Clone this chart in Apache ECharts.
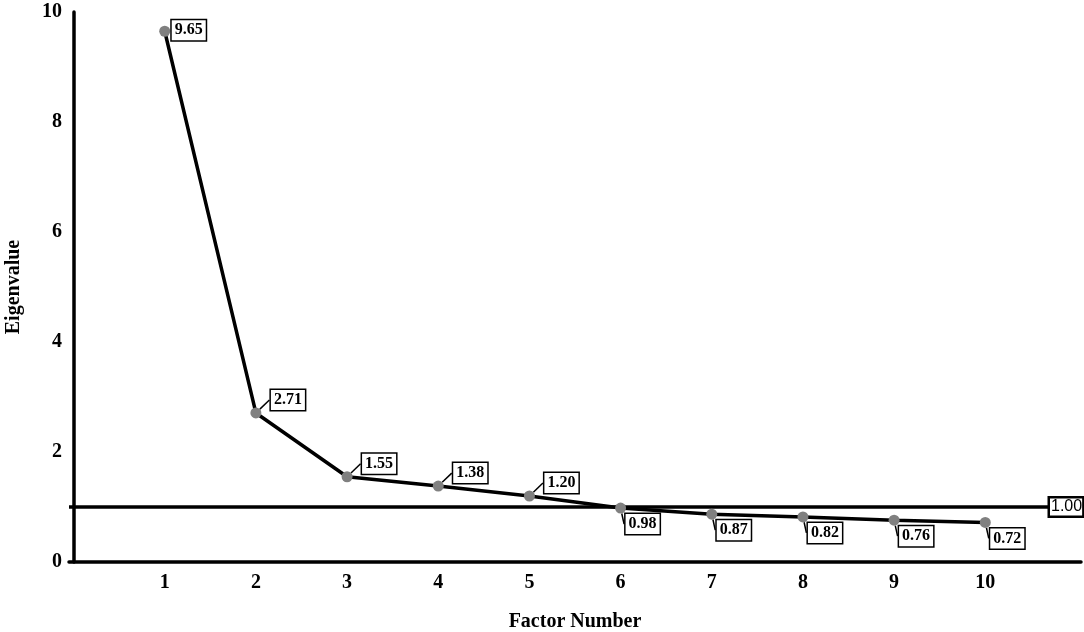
<!DOCTYPE html>
<html>
<head>
<meta charset="utf-8">
<script src="https://cdn.jsdelivr.net/npm/echarts@6/dist/echarts.min.js"></script>
<style>html,body{margin:0;padding:0;background:#fff}#c{width:1084px;height:632px}</style>
</head>
<body>
<div id="c"></div>
<script>
const factors = [1, 2, 3, 4, 5, 6, 7, 8, 9, 10];
const eigenvalues = [9.65, 2.71, 1.55, 1.38, 1.20, 0.98, 0.87, 0.82, 0.76, 0.72];
const yTicks = [0, 2, 4, 6, 8, 10];
const threshold = 1.00;

const serif = 'Liberation Serif';
const chart = echarts.init(document.getElementById('c'));
chart.setOption({
  backgroundColor: '#fff',
  animation: false,
  grid: { left: 69, right: 3, top: 12, bottom: 70, containLabel: false, outerBoundsMode: 'none' },
  xAxis: {
    type: 'value', min: -0.05, max: 11.05,
    name: 'Factor Number', nameLocation: 'middle', nameGap: 50,
    nameTextStyle: { fontFamily: serif, fontWeight: 'bold', fontSize: 20, color: '#000' },
    axisLine: { onZero: false, lineStyle: { color: '#000', width: 3.5 } },
    axisTick: { show: false },
    splitLine: { show: false },
    axisLabel: { customValues: factors, margin: 11, fontFamily: serif, fontWeight: 'bold', fontSize: 20, color: '#000' }
  },
  yAxis: {
    type: 'value', min: 0, max: 10, interval: 2,
    name: 'Eigenvalue', nameLocation: 'middle', nameGap: 45, nameRotate: 90,
    nameTextStyle: { fontFamily: serif, fontWeight: 'bold', fontSize: 20, color: '#000' },
    axisLine: { show: true, lineStyle: { color: '#000', width: 3.5 } },
    axisTick: { show: false },
    splitLine: { show: false },
    axisLabel: { customValues: yTicks, margin: 7, fontFamily: serif, fontWeight: 'bold', fontSize: 20, color: '#000' }
  },
  series: [{
    type: 'line',
    data: factors.map((f, i) => [f, eigenvalues[i]]),
    symbol: 'circle', symbolSize: 11,
    itemStyle: { color: '#808080' },
    lineStyle: { color: '#000', width: 3.5 },
    z: 3,
    label: {
      show: true, position: 'inside',
      formatter: p => p.value[1].toFixed(2),
      fontFamily: serif, fontWeight: 'bold', fontSize: 16, color: '#000',
      backgroundColor: '#fff', borderColor: '#000', borderWidth: 1.5,
      padding: [3, 3, 1, 3]
    },
    labelLine: { show: true, lineStyle: { color: '#000', width: 1.5 } },
    labelLayout: p => {
      const v = eigenvalues[p.dataIndex];
      if (p.dataIndex === 0) return { dx: 24, dy: -1 };
      if (v > 1) return { dx: 32, dy: -13 };
      return { dx: 22, dy: 16 };
    },
    markLine: {
      silent: true, symbol: 'none',
      data: [{ yAxis: threshold }],
      lineStyle: { color: '#000', width: 3.5, type: 'solid' },
      label: {
        show: true, position: 'end', distance: -31,
        formatter: () => threshold.toFixed(2),
        fontFamily: 'Liberation Sans', fontSize: 16, color: '#000',
        backgroundColor: '#fff', borderColor: '#000', borderWidth: 2.5,
        padding: [1, 0, 0, 1]
      },
      z: 2
    }
  }]
});
</script>
</body>
</html>
